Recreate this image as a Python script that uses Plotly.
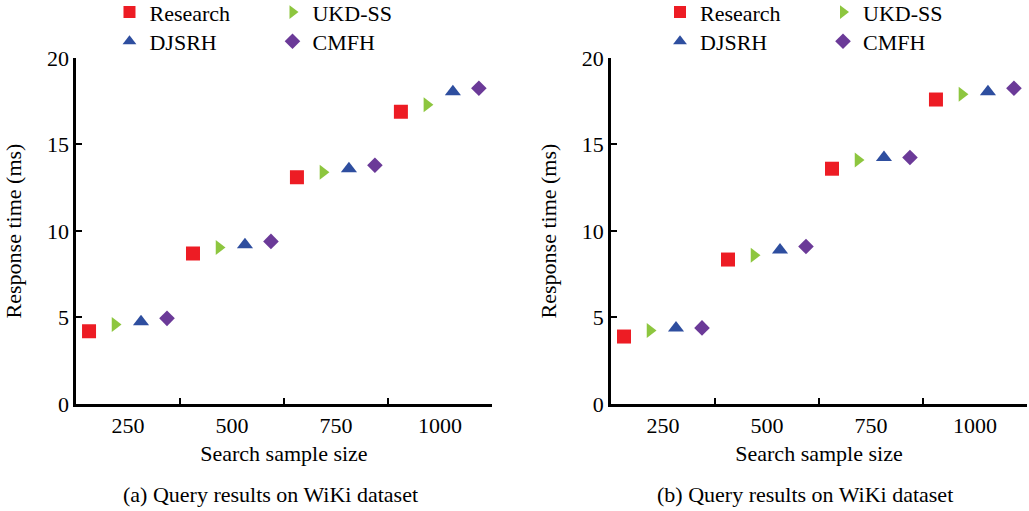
import plotly.graph_objects as go

sizes = ["250", "500", "750", "1000"]
methods = ["Research", "UKD-SS", "DJSRH", "CMFH"]

# panel (a)
wiki_a = {
    "Research": [4.2, 8.7, 13.1, 16.9],
    "UKD-SS": [4.6, 9.05, 13.4, 17.3],
    "DJSRH": [4.75, 9.2, 13.6, 18.05],
    "CMFH": [4.95, 9.4, 13.8, 18.25],
}
# panel (b)
wiki_b = {
    "Research": [3.9, 8.35, 13.6, 17.6],
    "UKD-SS": [4.25, 8.6, 14.1, 17.9],
    "DJSRH": [4.4, 8.9, 14.25, 18.05],
    "CMFH": [4.4, 9.1, 14.25, 18.25],
}

colors = {"Research": "#ED1C24", "UKD-SS": "#8DC63F", "DJSRH": "#2E4E9F", "CMFH": "#6B3A98"}
symbols = {"Research": "square", "UKD-SS": "triangle-right", "DJSRH": "triangle-up", "CMFH": "diamond"}
msize = {"Research": 14, "UKD-SS": 13, "DJSRH": 14, "CMFH": 12}

FONT = "Liberation Serif"

fig = go.Figure()

for data, xa, ya, legs in [
    (wiki_a, "x", "y", ("legend", "legend2")),
    (wiki_b, "x2", "y2", ("legend3", "legend4")),
]:
    for i, m in enumerate(methods):
        fig.add_trace(go.Scatter(
            x=sizes, y=data[m], name=m, mode="markers",
            xaxis=xa, yaxis=ya,
            marker=dict(symbol=symbols[m], size=msize[m], color=colors[m], line=dict(width=0)),
            legend=legs[0] if i < 2 else legs[1],
        ))

xstyle = dict(
    type="category", tickson="boundaries", ticks="inside", ticklen=6, tickwidth=2,
    tickcolor="black", showline=True, linecolor="black", linewidth=2.5,
    showgrid=False, zeroline=False,
    tickfont=dict(family=FONT, size=22, color="black"),
    title=dict(text="Search sample size", font=dict(family=FONT, size=22, color="black"), standoff=9),
)
ystyle = dict(
    range=[0, 20], tickvals=[0, 5, 10, 15, 20], ticks="inside", ticklen=6, tickwidth=2,
    tickcolor="black", showline=True, linecolor="black", linewidth=2.5,
    showgrid=False, zeroline=False,
    tickfont=dict(family=FONT, size=22, color="black"),
    title=dict(text="Response time (ms)", font=dict(family=FONT, size=22, color="black"), standoff=20),
)

legfont = dict(family=FONT, size=22, color="black")
leg = dict(orientation="h", entrywidth=118, xanchor="left", yanchor="middle",
           font=legfont, bgcolor="rgba(0,0,0,0)", itemsizing="constant")

fig.update_layout(
    width=1029, height=511,
    margin=dict(l=0, r=0, t=0, b=0, autoexpand=False),
    paper_bgcolor="white", plot_bgcolor="white",
    scattermode="group", scattergap=0,
    xaxis=dict(domain=[0.0739, 0.478], anchor="y", **xstyle),
    yaxis=dict(domain=[0.2094, 0.8865], anchor="x", **ystyle),
    xaxis2=dict(domain=[0.5938, 0.998], anchor="y2", **xstyle),
    yaxis2=dict(domain=[0.2094, 0.8865], anchor="x2", **ystyle),
    legend=dict(x=0.1064, y=0.976, **leg),
    legend2=dict(x=0.1064, y=0.919, **leg),
    legend3=dict(x=0.6414, y=0.976, **leg),
    legend4=dict(x=0.6414, y=0.919, **leg),
    annotations=[
        dict(text="(a) Query results on WiKi dataset", x=0.2627, y=0.033, xref="paper", yref="paper",
             xanchor="center", yanchor="middle", showarrow=False,
             font=dict(family=FONT, size=22, color="black")),
        dict(text="(b) Query results on WiKi dataset", x=0.782, y=0.033, xref="paper", yref="paper",
             xanchor="center", yanchor="middle", showarrow=False,
             font=dict(family=FONT, size=22, color="black")),
    ],
)

# the page body has a default 8px margin; drop it so the figure fills the window
fig.write_html("out.html", config={'displayModeBar': False},
               post_script="document.body.style.margin='0';")
